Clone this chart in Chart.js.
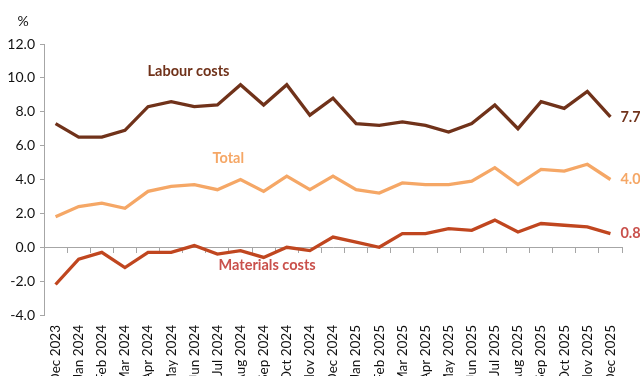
<!DOCTYPE html>
<html>
<head>
<meta charset="utf-8">
<script src="https://cdn.jsdelivr.net/npm/chart.js@4/dist/chart.umd.min.js"></script>
<style>
    html, body { margin: 0; padding: 0; background: #fff; }
    #wrap { width: 640px; height: 376px; }
</style>
</head>
<body>
<div id="wrap"><canvas id="costChart" width="640" height="376"></canvas></div>
<script>
const months = [
    "Dec 2023", "Jan 2024", "Feb 2024", "Mar 2024", "Apr 2024", "May 2024", "Jun 2024",
    "Jul 2024", "Aug 2024", "Sep 2024", "Oct 2024", "Nov 2024", "Dec 2024",
    "Jan 2025", "Feb 2025", "Mar 2025", "Apr 2025", "May 2025", "Jun 2025",
    "Jul 2025", "Aug 2025", "Sep 2025", "Oct 2025", "Nov 2025", "Dec 2025"
];
const labourCosts = [7.3, 6.5, 6.5, 6.9, 8.3, 8.6, 8.3, 8.4, 9.6, 8.4, 9.6, 7.8, 8.8,
    7.3, 7.2, 7.4, 7.2, 6.8, 7.3, 8.4, 7.0, 8.6, 8.2, 9.2, 7.7];
const totalCosts = [1.8, 2.4, 2.6, 2.3, 3.3, 3.6, 3.7, 3.4, 4.0, 3.3, 4.2, 3.4, 4.2,
    3.4, 3.2, 3.8, 3.7, 3.7, 3.9, 4.7, 3.7, 4.6, 4.5, 4.9, 4.0];
const materialsCosts = [-2.2, -0.7, -0.3, -1.2, -0.3, -0.3, 0.1, -0.4, -0.2, -0.6, 0.0, -0.2, 0.6,
    0.3, 0.0, 0.8, 0.8, 1.1, 1.0, 1.6, 0.9, 1.4, 1.3, 1.2, 0.8];

const LABOUR = "#70321a";
const TOTAL = "#f5a766";
const MATERIALS = "#c0461f";
const MATERIALS_TEXT = "#c9504b";
const AXIS = "#a6a6a6";
const FONT = "Lato, 'Open Sans', sans-serif";

// series names placed beside their lines, plus the latest value at the right end
const seriesLabels = [
    { text: "Labour costs", x: 5.75, y: 10.4, color: LABOUR },
    { text: "Total", x: 7.47, y: 5.27, color: TOTAL },
    { text: "Materials costs", x: 9.15, y: -1.05, color: MATERIALS_TEXT }
];

const labelPlugin = {
    id: "lineLabels",
    afterDatasetsDraw(chart) {
        const { ctx, scales } = chart;
        const last = months.length - 1;
        ctx.save();
        ctx.font = "bold 14.5px " + FONT;
        ctx.textBaseline = "middle";
        ctx.textAlign = "center";
        seriesLabels.forEach(l => {
            ctx.fillStyle = l.color;
            ctx.fillText(l.text, scales.x.getPixelForValue(l.x), scales.y.getPixelForValue(l.y));
        });
        ctx.textAlign = "left";
        const ends = [
            [labourCosts[last], LABOUR],
            [totalCosts[last], TOTAL],
            [materialsCosts[last], MATERIALS_TEXT]
        ];
        ends.forEach(([v, c]) => {
            ctx.fillStyle = c;
            ctx.fillText(v.toFixed(1), scales.x.getPixelForValue(last) + 10, scales.y.getPixelForValue(v));
        });
        ctx.font = "14px " + FONT;
        ctx.fillStyle = "#111";
        ctx.textAlign = "center";
        ctx.fillText("%", 23, 21);
        ctx.restore();
    }
};

function line(data, color) {
    return {
        data: data,
        borderColor: color,
        backgroundColor: color,
        borderWidth: 3.3,
        pointRadius: 0,
        tension: 0,
        fill: false
    };
}

new Chart(document.getElementById("costChart"), {
    type: "line",
    data: {
        labels: months,
        datasets: [
            line(totalCosts, TOTAL),
            line(labourCosts, LABOUR),
            line(materialsCosts, MATERIALS)
        ]
    },
    options: {
        responsive: false,
        animation: false,
        layout: { padding: { top: 44, right: 18, left: 0, bottom: 0 } },
        plugins: {
            legend: { display: false },
            tooltip: { enabled: false }
        },
        scales: {
            x: {
                offset: true,
                grid: { display: false },
                border: { display: false },
                ticks: {
                    autoSkip: false,
                    maxRotation: 90,
                    minRotation: 90,
                    padding: 2,
                    color: "#111",
                    font: { family: FONT, size: 13.5 }
                },
                afterFit(scale) { scale.height = 61; }
            },
            // zero line with tick marks between months
            x2: {
                type: "category",
                position: { y: 0 },
                offset: true,
                grid: {
                    offset: true,
                    drawOnChartArea: false,
                    tickLength: 5,
                    color: AXIS
                },
                border: { color: AXIS, width: 1 },
                ticks: { display: false }
            },
            y: {
                min: -4,
                max: 12,
                ticks: {
                    stepSize: 2,
                    padding: 5,
                    color: "#111",
                    font: { family: FONT, size: 14 },
                    callback: v => v.toFixed(1)
                },
                grid: {
                    drawOnChartArea: false,
                    tickLength: 4,
                    color: AXIS
                },
                border: { color: AXIS, width: 1 },
                afterFit(scale) { scale.width = 44; }
            }
        }
    },
    plugins: [labelPlugin]
});
</script>
</body>
</html>
